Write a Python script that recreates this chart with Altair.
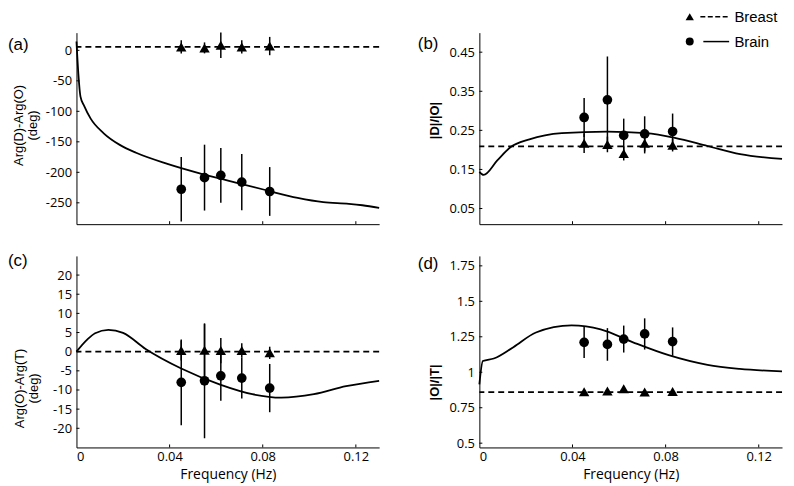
import altair as alt
import pandas as pd

# ---------------- data ----------------
freq = [0.045, 0.055, 0.062, 0.071, 0.083]
x_ticks = [0, 0.04, 0.08, 0.12]

# (a) Arg(D)-Arg(O)
a_brain = [-227.8, -208.7, -205.0, -216.0, -231.4]
a_brain_err = [53, 54, 45, 46, 40]
a_breast = [5.6, 4.0, 8.3, 5.6, 7.0]
a_breast_err = [11, 9, 21, 11, 15]
a_breast_line = 5.6
a_curve_f = [0, 0.0008, 0.0017, 0.0033, 0.0061, 0.0117, 0.0186, 0.0256, 0.0394, 0.0533,
             0.0672, 0.0811, 0.095, 0.106, 0.117, 0.1228, 0.13]
a_curve_v = [14.6, -38, -75.4, -91, -112, -136, -155, -168, -186.5, -202,
             -215.6, -229, -242, -249, -251.6, -254, -258.5]
a_yticks = [0, -50, -100, -150, -200, -250]

# (b) |D|/|O|
b_brain = [0.283, 0.328, 0.237, 0.241, 0.247]
b_brain_err = [0.05, 0.111, 0.043, 0.045, 0.046]
b_breast = [0.217, 0.214, 0.191, 0.217, 0.212]
b_breast_err = [0.025, 0.02, 0.018, 0.026, 0.016]
b_breast_line = 0.209
b_curve_f = [0, 0.0018, 0.0077, 0.0132, 0.0215, 0.0354, 0.0549, 0.0715, 0.084, 0.098, 0.112, 0.13]
b_curve_v = [0.144, 0.136, 0.173, 0.206, 0.227, 0.243, 0.247, 0.243, 0.231, 0.21, 0.189, 0.177]
b_yticks = [0.05, 0.15, 0.25, 0.35, 0.45]

# (c) Arg(O)-Arg(T)
c_brain = [-8.0, -7.6, -6.3, -6.9, -9.5]
c_brain_err = [11.2, 15.0, 6.5, 5.3, 6.3]
c_breast = [0.3, 0.4, 0.3, 0.3, -0.3]
c_breast_err = [2.6, 6.8, 3.3, 1.9, 1.6]
c_breast_line = 0
c_curve_f = [0, 0.0047, 0.008, 0.0137, 0.02, 0.0297, 0.045, 0.0617, 0.0755, 0.088, 0.102, 0.1158, 0.13]
c_curve_v = [0, 3.2, 4.8, 5.7, 4.9, 0.7, -4.4, -8.6, -11.1, -12.0, -11.1, -9.0, -7.6]
c_yticks = [-20, -15, -10, -5, 0, 5, 10, 15, 20]

# (d) |O|/|T|
d_brain = [1.211, 1.196, 1.234, 1.27, 1.216]
d_brain_err = [0.11, 0.115, 0.095, 0.11, 0.10]
d_breast = [0.862, 0.868, 0.884, 0.86, 0.864]
d_breast_err = [0.008, 0.008, 0.008, 0.008, 0.008]
d_breast_line = 0.86
d_curve_f = [0, 0.0015, 0.0062, 0.0146, 0.0243, 0.0396, 0.0521, 0.066, 0.0813, 0.098, 0.1118, 0.13]
d_curve_v = [0.914, 1.079, 1.097, 1.177, 1.28, 1.33, 1.303, 1.211, 1.12, 1.052, 1.024, 1.006]
d_yticks = [0.5, 0.75, 1, 1.25, 1.5, 1.75]

series_names = ["Breast", "Brain"]

# ---------------- layout / style ----------------
W, H = 305, 193
FONT = "Open Sans"
TFONT = "Liberation Sans"


def legend_layers():
    br = pd.DataFrame({"name": [series_names[0]]})
    bn = pd.DataFrame({"name": [series_names[1]]})
    y1, y2 = -16, 9
    return [
        alt.Chart(br).mark_point(shape="triangle-up", filled=True, size=70, color="black",
                                 opacity=1).encode(x=alt.value(212), y=alt.value(y1)),
        alt.Chart(br).mark_rule(color="black", strokeWidth=1.5, strokeDash=[5, 2.5]).encode(
            x=alt.value(222.7), x2=alt.value(250.3), y=alt.value(y1)),
        alt.Chart(br).mark_text(align="left", baseline="middle", font=TFONT, fontSize=15,
                                color="black").encode(text="name:N", x=alt.value(257),
                                                      y=alt.value(y1)),
        alt.Chart(bn).mark_point(shape="circle", filled=True, size=64, color="black",
                                 opacity=1).encode(x=alt.value(212), y=alt.value(y2)),
        alt.Chart(bn).mark_rule(color="black", strokeWidth=1.5).encode(
            x=alt.value(225.7), x2=alt.value(251.7), y=alt.value(y2)),
        alt.Chart(bn).mark_text(align="left", baseline="middle", font=TFONT, fontSize=15,
                                color="black").encode(text="name:N", x=alt.value(257),
                                                      y=alt.value(y2)),
    ]


def panel(label, lab_xy, curve_f, curve_v, brain, brain_err, breast, breast_err,
          line_val, ydom, yvals, ytitle, title_xy, bold, show_x, legend=False):
    xscale = alt.Scale(domain=[0, 0.13], nice=False, zero=False)
    yscale = alt.Scale(domain=ydom, nice=False, zero=False)
    xaxis = alt.Axis(values=x_ticks, labels=show_x,
                     title="Frequency (Hz)" if show_x else None,
                     labelExpr="datum.value + ''", labelPadding=3, titlePadding=4)
    yaxis = alt.Axis(values=yvals, title=ytitle, labelExpr="datum.value + ''",
                     labelPadding=5, titleX=title_xy[0], titleY=title_xy[1],
                     titleAngle=-90, titleAlign="center", titleBaseline="bottom",
                     titleLineHeight=14, titleFont=TFONT, titleFontSize=13,
                     titleFontWeight="bold" if bold else "normal")

    def X(f):
        return alt.X(f"{f}:Q", scale=xscale, axis=xaxis)

    def Y(f):
        return alt.Y(f"{f}:Q", scale=yscale, axis=yaxis)

    curve = pd.DataFrame({"f": curve_f, "v": curve_v})
    pts_brain = pd.DataFrame({"f": freq, "v": brain,
                              "lo": [v - e for v, e in zip(brain, brain_err)],
                              "hi": [v + e for v, e in zip(brain, brain_err)]})
    pts_breast = pd.DataFrame({"f": freq, "v": breast,
                               "lo": [v - e for v, e in zip(breast, breast_err)],
                               "hi": [v + e for v, e in zip(breast, breast_err)]})

    layers = [
        alt.Chart(pd.DataFrame({"v": [line_val]})).mark_rule(
            color="black", strokeWidth=1.8, strokeDash=[6, 4]).encode(y=Y("v")),
        alt.Chart(curve).mark_line(color="black", strokeWidth=1.8,
                                   interpolate="monotone").encode(x=X("f"), y=Y("v")),
        alt.Chart(pts_brain).mark_rule(color="black", strokeWidth=1.5).encode(
            x=X("f"), y=Y("lo"), y2="hi"),
        alt.Chart(pts_breast).mark_rule(color="black", strokeWidth=1.5).encode(
            x=X("f"), y=Y("lo"), y2="hi"),
        alt.Chart(pts_brain).mark_point(shape="circle", filled=True, size=95,
                                        color="black", opacity=1).encode(x=X("f"), y=Y("v")),
        alt.Chart(pts_breast).mark_point(shape="triangle-up", filled=True, size=110,
                                         color="black", opacity=1).encode(x=X("f"), y=Y("v")),
        alt.Chart(pd.DataFrame({"t": x_ticks[1:]})).mark_rule(
            color="black", strokeWidth=1).encode(x=X("t"), y=alt.value(H), y2=alt.value(H - 3)),
        alt.Chart(pd.DataFrame({"t": yvals})).mark_rule(
            color="black", strokeWidth=1).encode(y=Y("t"), x=alt.value(0), x2=alt.value(3)),
        alt.Chart(pd.DataFrame({"t": [label]})).mark_text(
            align="left", baseline="middle", font=TFONT, fontSize=17,
            color="black").encode(text="t:N", x=alt.value(lab_xy[0]), y=alt.value(lab_xy[1])),
    ]
    if legend:
        layers += legend_layers()
    return alt.layer(*layers).properties(width=W, height=H)


pa = panel("(a)", (-69, 12), a_curve_f, a_curve_v, a_brain, a_brain_err, a_breast,
           a_breast_err, a_breast_line, [-285, 29], a_yticks,
           ["Arg(D)-Arg(O)", "(deg)"], (-51, 93), False, False)
pb = panel("(b)", (-62, 11), b_curve_f, b_curve_v, b_brain, b_brain_err, b_breast,
           b_breast_err, b_breast_line, [0.01, 0.5], b_yticks,
           "|D|/|O|", (-38, 88), True, False, legend=True)
pc = panel("(c)", (-69, 5), c_curve_f, c_curve_v, c_brain, c_brain_err, c_breast,
           c_breast_err, c_breast_line, [-25, 25], c_yticks,
           ["Arg(O)-Arg(T)", "(deg)"], (-50, 133), False, True)
pd_ = panel("(d)", (-62, 8), d_curve_f, d_curve_v, d_brain, d_brain_err, d_breast,
            d_breast_err, d_breast_line, [0.47, 1.82], d_yticks,
            "|O|/|T|", (-38, 127), True, True)

chart = alt.concat(pa, pb, pc, pd_, columns=2,
                   spacing=alt.RowColnumber(row=27, column=35)).properties(
    padding=0
).configure_view(strokeWidth=0).configure_axis(
    domainColor="black", domainWidth=1, ticks=False, grid=False,
    labelColor="black", labelFont=FONT, labelFontSize=13,
    titleColor="black", titleFont=FONT, titleFontSize=14, titleFontWeight="normal"
)

chart.save("out.html", embed_options={"renderer": "svg", "actions": False})
